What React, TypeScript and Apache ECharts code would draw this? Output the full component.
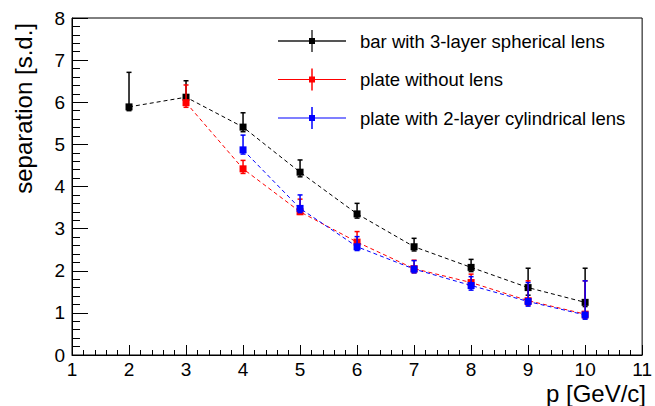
import React, { useEffect, useRef } from "react";
import * as echarts from "echarts";

const seriesNames = [
  "bar with 3-layer spherical lens",
  "plate without lens",
  "plate with 2-layer cylindrical lens",
];
const seriesColors = ["#000000", "#ff0000", "#0000ff"];

const barSphericalX = [2, 3, 4, 5, 6, 7, 8, 9, 10];
const barSphericalY = [5.89, 6.12, 5.41, 4.34, 3.35, 2.57, 2.08, 1.6, 1.25];
const barSphericalHigh = [6.71, 6.51, 5.75, 4.63, 3.6, 2.77, 2.27, 2.06, 2.06];
const barSphericalLow = [5.8, 6.0, 5.3, 4.23, 3.25, 2.47, 1.98, 1.42, 1.15];

const plateNoLensX = [3, 4, 5, 6, 7, 8, 9, 10];
const plateNoLensY = [5.99, 4.42, 3.4, 2.68, 2.05, 1.72, 1.29, 0.97];
const plateNoLensHigh = [6.41, 4.62, 3.7, 2.93, 2.25, 1.92, 1.76, 1.76];
const plateNoLensLow = [5.88, 4.31, 3.34, 2.55, 1.95, 1.62, 1.18, 0.87];

const plateCylX = [4, 5, 6, 7, 8, 9, 10];
const plateCylY = [4.87, 3.48, 2.57, 2.04, 1.65, 1.27, 0.95];
const plateCylHigh = [5.22, 3.8, 2.81, 2.24, 1.86, 1.72, 1.76];
const plateCylLow = [4.77, 3.38, 2.48, 1.95, 1.54, 1.16, 0.85];

const xTitle = "p [GeV/c]";
const yTitle = "separation [s.d.]";

const FONT = "Liberation Sans, Arial, Helvetica, sans-serif";

const groups = [
  { x: barSphericalX, y: barSphericalY, hi: barSphericalHigh, lo: barSphericalLow },
  { x: plateNoLensX, y: plateNoLensY, hi: plateNoLensHigh, lo: plateNoLensLow },
  { x: plateCylX, y: plateCylY, hi: plateCylHigh, lo: plateCylLow },
];

export default function App() {
  const ref = useRef<HTMLDivElement>(null);
  useEffect(() => {
    if (!ref.current) return;
    document.body.style.margin = "0";
    const chart = echarts.init(ref.current, null, { renderer: "svg" });

    const series: any[] = [];
    groups.forEach((g, i) => {
      const color = seriesColors[i];
      series.push({
        type: "custom",
        name: seriesNames[i] + " err",
        data: g.x.map((xv, k) => [xv, g.y[k], g.lo[k], g.hi[k]]),
        encode: { x: 0, y: [1, 2, 3] },
        z: 2 + i * 2,
        renderItem: (params: any, api: any) => {
          const x = api.value(0);
          const lo = api.coord([x, api.value(2)]);
          const hi = api.coord([x, api.value(3)]);
          const cw = 2.5;
          const style = { stroke: color, lineWidth: 1.5 };
          return {
            type: "group",
            children: [
              { type: "line", shape: { x1: lo[0], y1: lo[1], x2: hi[0], y2: hi[1] }, style },
              { type: "line", shape: { x1: hi[0] - cw, y1: hi[1], x2: hi[0] + cw, y2: hi[1] }, style },
              { type: "line", shape: { x1: lo[0] - cw, y1: lo[1], x2: lo[0] + cw, y2: lo[1] }, style },
            ],
          };
        },
      });
      series.push({
        type: "line",
        name: seriesNames[i],
        data: g.x.map((xv, k) => [xv, g.y[k]]),
        symbol: "rect",
        symbolSize: 7,
        z: 3 + i * 2,
        itemStyle: { color },
        lineStyle: { color, width: 1, type: [4, 3] },
      });
    });

    const legendTop = 41;
    const legendStep = 38.5;
    const legendChildren: any[] = [];
    seriesNames.forEach((name, i) => {
      const cy = legendTop + i * legendStep;
      const color = seriesColors[i];
      legendChildren.push(
        { type: "line", shape: { x1: 278, y1: cy, x2: 346, y2: cy }, style: { stroke: i === 0 ? "#555" : color, lineWidth: i === 0 ? 2 : 1.2 } },
        { type: "line", shape: { x1: 312, y1: cy - 11, x2: 312, y2: cy + 11 }, style: { stroke: i === 0 ? "#333" : color, lineWidth: 1.5 } },
        { type: "rect", shape: { x: 309, y: cy - 3, width: 6, height: 6 }, style: { fill: color } },
        {
          type: "text",
          x: 360,
          y: cy,
          style: { text: name, fontSize: 18.5, fontFamily: FONT, fill: "#000", align: "left", verticalAlign: "middle" },
        }
      );
    });

    chart.setOption({
      animation: false,
      backgroundColor: "#fff",
      grid: {
        left: 72,
        right: 12,
        top: 18,
        bottom: 51,
        show: true,
        borderColor: "#000",
        borderWidth: 1,
        backgroundColor: "transparent",
      },
      xAxis: {
        type: "value",
        min: 1,
        max: 11,
        interval: 1,
        axisLine: { show: true, lineStyle: { color: "#000", width: 1 } },
        axisTick: { show: true, inside: true, length: 10, lineStyle: { color: "#000" } },
        minorTick: { show: true, splitNumber: 5, length: 5, lineStyle: { color: "#000" } },
        splitLine: { show: false },
        axisLabel: { color: "#000", fontSize: 19, fontFamily: FONT, margin: 5 },
      },
      yAxis: {
        type: "value",
        min: 0,
        max: 8,
        interval: 1,
        axisLine: { show: true, lineStyle: { color: "#000", width: 1 } },
        axisTick: { show: true, inside: true, length: 16, lineStyle: { color: "#000" } },
        minorTick: { show: true, splitNumber: 5, length: 8, lineStyle: { color: "#000" } },
        splitLine: { show: false },
        axisLabel: { color: "#000", fontSize: 19, fontFamily: FONT, margin: 7 },
      },
      graphic: [
        { type: "group", children: legendChildren },
        {
          type: "text",
          x: 646,
          y: 381,
          style: { text: xTitle, fontSize: 24, fontFamily: FONT, fill: "#000", align: "right", verticalAlign: "top" },
        },
        {
          type: "text",
          x: 11,
          y: 23,
          rotation: Math.PI / 2,
          style: { text: yTitle, fontSize: 24, fontFamily: FONT, fill: "#000", align: "right", verticalAlign: "top" },
        },
      ],
      series,
    });
    return () => chart.dispose();
  }, []);
  return <div ref={ref} style={{ width: 655, height: 406, position: "fixed", left: 0, top: 0 }} />;
}
